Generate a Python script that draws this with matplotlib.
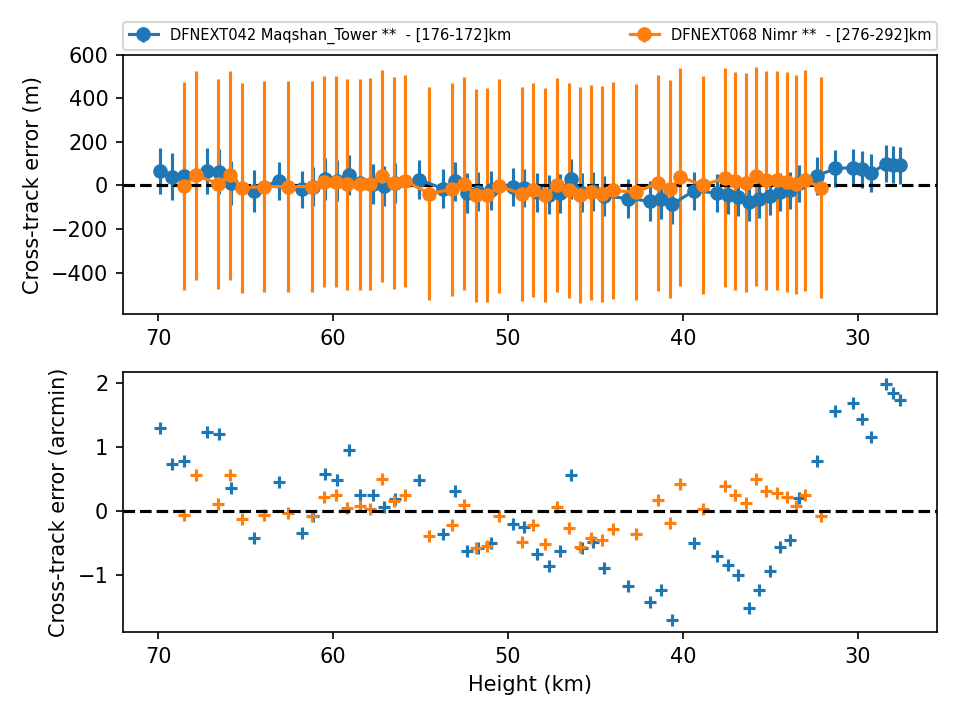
import numpy as np
import matplotlib
matplotlib.use("Agg")
import matplotlib.pyplot as plt

# station 1 : DFNEXT042
h1 = [69.9, 69.18, 68.5, 67.18, 66.51, 65.81, 64.51, 63.12, 61.75, 61.12,
      60.44, 59.75, 59.07, 58.46, 57.7, 57.07, 56.44, 55.07, 53.73, 53.01,
      52.34, 51.73, 50.97, 49.7, 49.09, 48.36, 47.67, 47.03, 46.4, 45.75,
      45.13, 44.5, 43.13, 41.89, 41.24, 40.61, 39.37, 38.04, 37.43, 36.84,
      36.21, 35.64, 35.03, 34.44, 33.87, 33.39, 32.35, 31.3, 30.29, 29.76,
      29.25, 28.39, 27.98, 27.6]
ct1_m = [66, 40, 43, 67, 63, 12, -24, 22, -18, -5,
         30, 22, 48, 12, 8, -2, 10, 26, -14, 20,
         -35, -28, -22, -6, -11, -32, -42, -36, 30, -34,
         -26, -48, -60, -72, -64, -86, -24, -35, -45, -54,
         -77, -62, -47, -30, -23, 10, 44, 78, 82, 74,
         57, 100, 96, 92]
err1_m = [107, 107, 106, 104, 104, 102, 96, 88, 84, 90,
          95, 95, 94, 93, 92, 92, 92, 90, 90, 90,
          90, 89, 89, 88, 88, 88, 90, 90, 92, 90,
          90, 90, 90, 92, 92, 92, 88, 88, 88, 87,
          87, 87, 87, 86, 86, 86, 86, 87, 86, 86,
          86, 84, 84, 84]
ct1_am = [1.29, 0.74, 0.79, 1.23, 1.21, 0.37, -0.42, 0.45, -0.34, -0.07,
          0.58, 0.48, 0.95, 0.25, 0.26, 0.06, 0.19, 0.49, -0.35, 0.31,
          -0.62, -0.57, -0.49, -0.20, -0.25, -0.66, -0.85, -0.62, 0.56, -0.58,
          -0.48, -0.88, -1.16, -1.42, -1.23, -1.70, -0.49, -0.70, -0.84, -1.00,
          -1.51, -1.22, -0.93, -0.55, -0.45, 0.20, 0.79, 1.57, 1.68, 1.44,
          1.15, 1.98, 1.84, 1.74]

# station 2 : DFNEXT068
h2 = [68.55, 67.85, 66.55, 65.87, 65.18, 63.93, 62.55, 61.23, 60.5, 59.85,
      59.18, 58.49, 57.87, 57.18, 56.53, 55.87, 54.5, 53.18, 52.5, 51.85,
      51.18, 50.51, 49.18, 48.55, 47.87, 47.18, 46.53, 45.87, 45.24, 44.61,
      43.98, 42.69, 41.41, 40.73, 40.15, 38.84, 37.6, 37.01, 36.38, 35.83,
      35.26, 34.63, 34.06, 33.53, 33.0, 32.1]
ct2_m = [-3, 46, 8, 46, -11, -5, -5, -5, 17, 17,
         5, 5, 5, 43, 12, 20, -37, -18, 9, -46,
         -44, -3, -40, -22, -44, 1, -22, -44, -32, -38,
         -23, -31, 12, -18, 38, 1, 35, 20, 12, 43,
         24, 23, 17, 5, 23, -11]
err2_m = [479, 480, 481, 481, 483, 483, 483, 485, 485, 485,
          485, 484, 487, 487, 487, 488, 487, 489, 489, 490,
          490, 490, 491, 492, 493, 492, 494, 494, 493, 496,
          496, 497, 497, 500, 500, 501, 502, 501, 503, 503,
          503, 503, 505, 504, 506, 507]
ct2_am = [-0.06, 0.56, 0.11, 0.57, -0.12, -0.06, -0.03, -0.07, 0.22, 0.26,
          0.05, 0.08, 0.04, 0.50, 0.16, 0.25, -0.39, -0.22, 0.09, -0.58,
          -0.54, -0.08, -0.48, -0.22, -0.51, 0.06, -0.26, -0.55, -0.41, -0.45,
          -0.28, -0.36, 0.18, -0.19, 0.43, 0.04, 0.40, 0.26, 0.13, 0.51,
          0.31, 0.29, 0.23, 0.08, 0.25, -0.08]

lab1 = "DFNEXT042 Maqshan_Tower **  - [176-172]km"
lab2 = "DFNEXT068 Nimr **  - [276-292]km"

fig, (ax1, ax2) = plt.subplots(2, 1, figsize=(6.4, 4.8), dpi=150)
fig.subplots_adjust(left=0.128, right=0.976, top=0.924, bottom=0.122, hspace=0.223)

ax1.errorbar(h1, ct1_m, yerr=err1_m, fmt='o-', label=lab1)
ax1.errorbar(h2, ct2_m, yerr=err2_m, fmt='o-', label=lab2)
ax1.axhline(0, color='k', ls='--')
ax1.invert_xaxis()
ax1.set_ylabel('Cross-track error (m)')
ax1.legend(bbox_to_anchor=(0., 1.02, 1., .102), loc='lower left', ncol=2,
           mode='expand', borderaxespad=0., fontsize=7)

ax2.scatter(h1, ct1_am, marker='+')
ax2.scatter(h2, ct2_am, marker='+')
ax2.axhline(0, color='k', ls='--')
ax2.invert_xaxis()
ax2.set_xlabel('Height (km)')
ax2.set_ylabel('Cross-track error (arcmin)')

fig.savefig('out.png', dpi=150)
